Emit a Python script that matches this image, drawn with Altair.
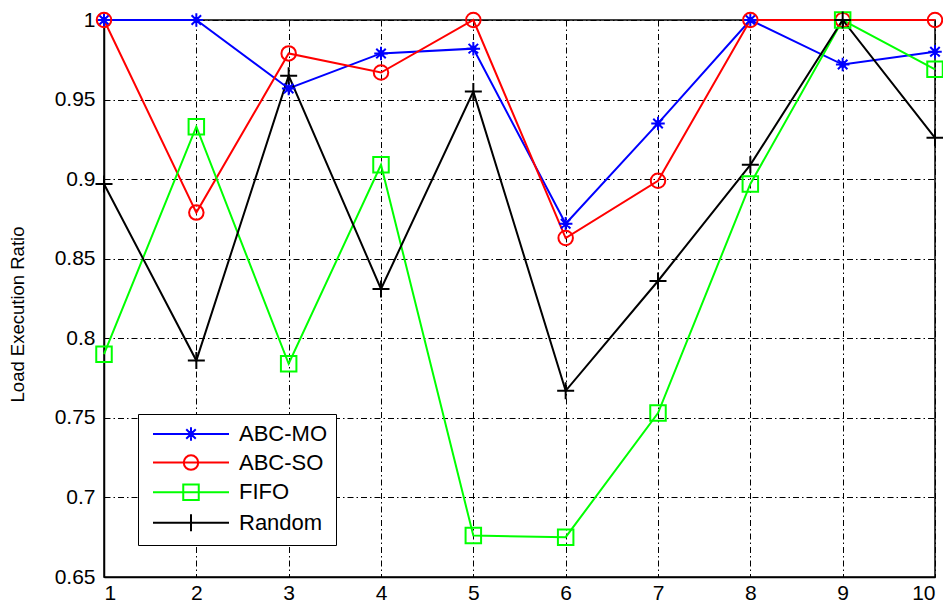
import altair as alt
import pandas as pd

x_vals = [1, 2, 3, 4, 5, 6, 7, 8, 9, 10]
abc_mo = [1.0, 1.0, 0.957, 0.979, 0.982, 0.872, 0.935, 1.0, 0.972, 0.980]
abc_so = [1.0, 0.879, 0.979, 0.967, 1.0, 0.863, 0.899, 1.0, 1.0, 1.0]
fifo = [0.790, 0.933, 0.784, 0.909, 0.676, 0.675, 0.753, 0.897, 1.0, 0.969]
random_vals = [0.897, 0.786, 0.965, 0.831, 0.955, 0.767, 0.836, 0.909, 1.0, 0.926]

series_names = ["ABC-MO", "ABC-SO", "FIFO", "Random"]
series_colors = ["#0000ff", "#ff0000", "#00ff00", "#000000"]
marker_kinds = ["star", "circle", "square", "plus"]
y_ticks = [0.65, 0.7, 0.75, 0.8, 0.85, 0.9, 0.95, 1.0]
x_ticks = x_vals

rows = []
for name, vals in zip(series_names, [abc_mo, abc_so, fifo, random_vals]):
    for xv, yv in zip(x_vals, vals):
        rows.append({"x": xv, "value": yv, "series": name})
df = pd.DataFrame(rows)


def marker_path(kind, cx=0.0):
    if kind == "star":
        r, d = 1.35, 0.95
        return (f"M{cx},{-r}V{r}M{cx - r},0H{cx + r}"
                f"M{cx - d},{-d}L{cx + d},{d}M{cx - d},{d}L{cx + d},{-d}"
                f"M{cx},{-0.6}L{cx + 0.6},0L{cx},{0.6}L{cx - 0.6},0Z")
    if kind == "circle":
        r = 1.45
        return (f"M{cx - r},0A{r},{r} 0 1,0 {cx + r},0"
                f"A{r},{r} 0 1,0 {cx - r},0Z")
    if kind == "square":
        r = 1.55
        return f"M{cx - r},{-r}H{cx + r}V{r}H{cx - r}Z"
    r = 1.7
    return f"M{cx},{-r}V{r}M{cx - r},0H{cx + r}"


half_line = 7.6
legend_cx = 6.6
chart_shapes = [marker_path(k) for k in marker_kinds]
legend_shapes = [
    f"M{legend_cx - half_line},0H{legend_cx + half_line}" + marker_path(k, legend_cx)
    for k in marker_kinds
]

FONT = "Liberation Sans"
color_scale = alt.Scale(domain=series_names, range=series_colors)

x_enc = alt.X(
    "x:Q",
    scale=alt.Scale(domain=[1, 10], nice=False),
    axis=alt.Axis(values=x_ticks, format="d", title=None),
)
y_enc = alt.Y(
    "value:Q",
    scale=alt.Scale(domain=[0.65, 1.0], nice=False, zero=False),
    axis=alt.Axis(values=y_ticks, format=".2~f", title="Load Execution Ratio",
                  titleY=294),
)

base = alt.Chart(df)

lines = base.mark_line(strokeWidth=2, clip=False).encode(
    x=x_enc,
    y=y_enc,
    color=alt.Color("series:N", scale=color_scale, legend=None),
    detail="series:N",
)

points = base.mark_point(size=100, strokeWidth=2, filled=False, opacity=1).encode(
    x=x_enc,
    y=y_enc,
    color=alt.Color("series:N", scale=color_scale, legend=None),
    shape=alt.Shape(
        "series:N",
        scale=alt.Scale(domain=series_names, range=chart_shapes),
        legend=None,
    ),
)

legend_layer = base.transform_filter(alt.datum.x < 0).mark_point(
    size=100, strokeWidth=2, filled=False, opacity=1
).encode(
    x=x_enc,
    y=y_enc,
    shape=alt.Shape(
        "series:N",
        scale=alt.Scale(domain=series_names, range=legend_shapes),
        legend=alt.Legend(
            title=None,
            symbolStrokeColor={"expr": "scale('color', datum.value)"},
            symbolFillColor="transparent",
            symbolOpacity=1,
        ),
    ),
)

chart = (
    alt.layer(lines, points, legend_layer)
    .resolve_scale(shape="independent")
    .properties(
        width=831,
        height=557,
        autosize=alt.AutoSizeParams(type="none"),
        padding={"left": 96, "top": 12, "right": 8, "bottom": 26},
    )
    .configure_view(stroke="black", strokeWidth=1.5)
    .configure_axis(
        grid=True,
        gridColor="black",
        gridOpacity=1,
        gridWidth=1,
        gridDash=[6, 3, 1.5, 3],
        domainColor="black",
        domainWidth=1.5,
        ticks=False,
        labelFont=FONT,
        labelFontSize=21,
        labelColor="black",
        titleFont=FONT,
        titleFontSize=18.5,
        titleFontWeight="normal",
        titleColor="black",
    )
    .configure_axisX(labelPadding=5)
    .configure_axisY(labelPadding=9, titlePadding=27)
    .configure_legend(
        orient="none",
        legendX=34,
        legendY=394,
        labelFont=FONT,
        labelFontSize=22,
        labelColor="black",
        labelOffset=70,
        symbolSize=100,
        symbolStrokeWidth=2,
        rowPadding=5.6,
        padding=9,
        strokeColor="black",
        fillColor="white",
    )
)

chart.save("out.html", embed_options={"renderer": "svg", "actions": False})
